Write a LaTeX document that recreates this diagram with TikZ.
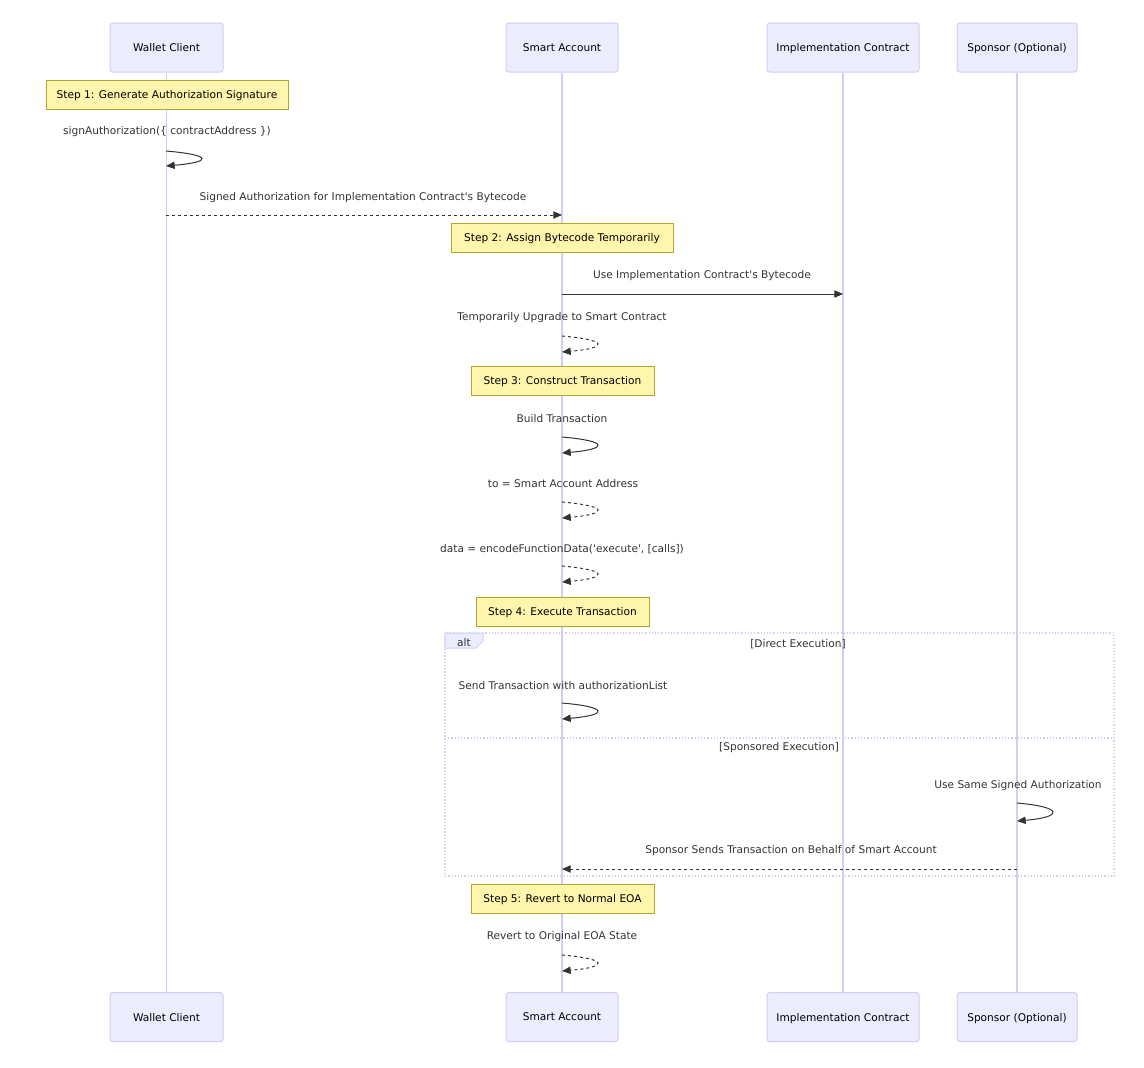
\documentclass[tikz,border=0pt]{standalone}
\usepackage{fontspec}
\setmainfont{DejaVu Sans}
\usetikzlibrary{arrows.meta}
\definecolor{actfill}{HTML}{ECECFF}
\definecolor{actline}{RGB}{214,204,242}
\definecolor{notefill}{HTML}{FFF5AD}
\definecolor{noteline}{HTML}{AAAA33}
\definecolor{ink}{HTML}{333333}
\tikzset{
  actor/.style={draw=actline, fill=actfill, rounded corners=2pt, line width=0.75pt, minimum height=36.75pt, inner sep=0pt, text depth=0pt, font=\fontsize{7.95}{9}\selectfont, text=black},
  notebox/.style={draw=noteline, fill=notefill, line width=0.75pt, minimum height=21.75pt, inner sep=0pt, text depth=0pt, font=\fontsize{7.95}{9}\selectfont, text=black},
  lbl/.style={font=\fontsize{7.95}{9}\selectfont, text=ink, inner sep=0pt},
  lifeline/.style={draw=actline, line width=1pt},
  msg/.style={draw=ink, line width=0.75pt, -{Triangle[length=6.5pt,width=5.5pt]}},
  dmsg/.style={msg, dash pattern=on 2.25pt off 2.25pt},
  altframe/.style={draw=actline, line width=0.9pt, dash pattern=on 0.9pt off 1.5pt},
}
\begin{document}
\begin{tikzpicture}[x=0.75pt,y=-0.75pt]
\useasboundingbox (0,0) rectangle (1144,1067);
% actors
\node[actor, minimum width=84.75pt] (wt) at (166.5,47.5) {Wallet Client};
\node[actor, minimum width=84pt] (st) at (562,47.5) {Smart Account};
\node[actor, minimum width=114pt] (it) at (843,47.5) {Implementation Contract};
\node[actor, minimum width=90pt] (pt) at (1017,47.5) {Sponsor (Optional)};
\node[actor, minimum width=84.75pt] (wb) at (166.5,1017) {Wallet Client};
\node[actor, minimum width=84pt] (sb) at (562,1017) {Smart Account};
\node[actor, minimum width=114pt] (ib) at (843,1017) {Implementation Contract};
\node[actor, minimum width=90pt] (pb) at (1017,1017) {Sponsor (Optional)};
% lifelines
\draw[lifeline] (wt.south) -- (wb.north);
\draw[lifeline] (st.south) -- (sb.north);
\draw[lifeline] (it.south) -- (ib.north);
\draw[lifeline] (pt.south) -- (pb.north);
% notes
\node[notebox, minimum width=181.5pt] (n1) at (167,94.5) {Step 1: Generate Authorization Signature};
\node[notebox, minimum width=166.5pt] (n2) at (562,237.5) {Step 2: Assign Bytecode Temporarily};
\node[notebox, minimum width=137.25pt] (n3) at (562.5,380.5) {Step 3: Construct Transaction};
\node[notebox, minimum width=129.75pt] (n4) at (562.5,611.5) {Step 4: Execute Transaction};
\node[notebox, minimum width=137.25pt] (n5) at (562.5,898.5) {Step 5: Revert to Normal EOA};
% alt frame
\draw[altframe] (445,633) rectangle (1114,876);
\draw[altframe] (445,738) -- (1114,738);
\draw[draw=actline, fill=actfill, line width=0.75pt] (445,633) -- (483,633) -- (483,641) -- (476,648) -- (445,648) -- cycle;
\node[lbl] (alt) at (464,643) {alt};
\node[lbl] (g1) at (798,644) {[Direct Execution]};
\node[lbl] (g2) at (779,748) {[Sponsored Execution]};
% labels
\node[lbl] (l1) at (167,132) {signAuthorization(\{ contractAddress \})};
\node[lbl] (l2) at (363,198) {Signed Authorization for Implementation Contract\textquotesingle s Bytecode};
\node[lbl] (l3) at (702,276) {Use Implementation Contract\textquotesingle s Bytecode};
\node[lbl] (l4) at (562,318) {Temporarily Upgrade to Smart Contract};
\node[lbl] (l5) at (562,419) {Build Transaction};
\node[lbl] (l6) at (563,484) {to = Smart Account Address};
\node[lbl] (l7) at (562,549) {data = encodeFunctionData(\textquotesingle execute\textquotesingle, [calls])};
\node[lbl] (l8) at (563,686) {Send Transaction with authorizationList};
\node[lbl] (l9) at (1018,786) {Use Same Signed Authorization};
\node[lbl] (l10) at (791,851) {Sponsor Sends Transaction on Behalf of Smart Account};
\node[lbl] (l11) at (562,937) {Revert to Original EOA State};
% message end points on lifelines
\coordinate (a1) at (166,151); \coordinate (b1) at (166,166);
\coordinate (a2) at (166,215); \coordinate (b2) at (562,215);
\coordinate (a3) at (562,294); \coordinate (b3) at (843,294);
\coordinate (a4) at (562,336); \coordinate (b4) at (562,352);
\coordinate (a5) at (562,437); \coordinate (b5) at (562,453);
\coordinate (a6) at (562,502); \coordinate (b6) at (562,518);
\coordinate (a7) at (562,566); \coordinate (b7) at (562,582);
\coordinate (a8) at (562,703); \coordinate (b8) at (562,719);
\coordinate (a9) at (1017,803); \coordinate (b9) at (1017,821);
\coordinate (a10) at (1017,869); \coordinate (b10) at (562,869);
\coordinate (a11) at (562,955); \coordinate (b11) at (562,971);
% messages
\draw[msg] (a1) .. controls ([xshift=35pt,yshift=-3pt]a1) and ([xshift=35pt,yshift=3pt]b1) .. (b1);
\draw[dmsg] (a2) -- (b2);
\draw[msg] (a3) -- (b3);
\draw[dmsg] (a4) .. controls ([xshift=35pt,yshift=-3pt]a4) and ([xshift=35pt,yshift=3pt]b4) .. (b4);
\draw[msg] (a5) .. controls ([xshift=35pt,yshift=-3pt]a5) and ([xshift=35pt,yshift=3pt]b5) .. (b5);
\draw[dmsg] (a6) .. controls ([xshift=35pt,yshift=-3pt]a6) and ([xshift=35pt,yshift=3pt]b6) .. (b6);
\draw[dmsg] (a7) .. controls ([xshift=35pt,yshift=-3pt]a7) and ([xshift=35pt,yshift=3pt]b7) .. (b7);
\draw[msg] (a8) .. controls ([xshift=35pt,yshift=-3pt]a8) and ([xshift=35pt,yshift=3pt]b8) .. (b8);
\draw[msg] (a9) .. controls ([xshift=35pt,yshift=-3pt]a9) and ([xshift=35pt,yshift=3pt]b9) .. (b9);
\draw[dmsg] (a10) -- (b10);
\draw[dmsg] (a11) .. controls ([xshift=35pt,yshift=-3pt]a11) and ([xshift=35pt,yshift=3pt]b11) .. (b11);
\end{tikzpicture}
\end{document}
